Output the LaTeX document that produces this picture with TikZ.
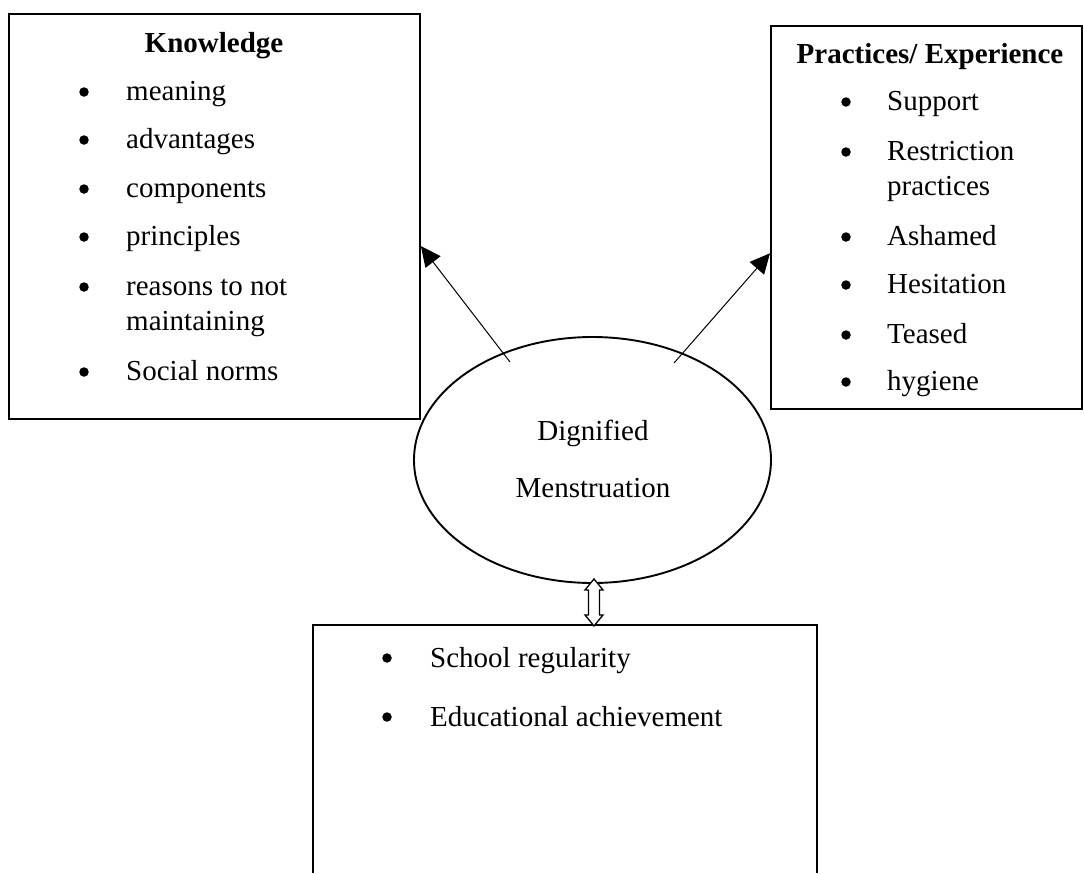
\documentclass[tikz,border=0pt]{standalone}
\usepackage{fontspec}
\setmainfont{Liberation Serif}
\usetikzlibrary{shapes.geometric,arrows.meta,calc}
\begin{document}
\begin{tikzpicture}[x=1pt,y=-1pt,
  mainfont/.style={font=\fontsize{29}{35}\selectfont},
  boxline/.style={line width=1.9pt},
  box/.style={draw, boxline, rectangle, inner sep=0pt, anchor=north west},
  txt/.style={mainfont, anchor=base west, inner sep=0pt},
  bul/.style={circle, fill, inner sep=0pt, minimum size=9.5pt},
  ctr/.style={mainfont, anchor=base, inner sep=0pt},
  ttl/.style={font=\fontsize{29}{35}\selectfont\bfseries, anchor=base, inner sep=0pt},
  arr/.style={line width=1pt, -{Triangle[length=20pt,width=19pt]}},
  dblarrow/.style={draw, fill=white, line width=1.3pt, line join=miter}]
\useasboundingbox (0,0) rectangle (1084,873);

% Left box: Knowledge
\node[box, minimum width=411pt, minimum height=405pt] (know) at (8,13) {};
\node[ttl] (kt) at (214,52) {Knowledge};
\node[bul] (kb1) at (84,92) {}; \node[txt] (k1) at (126,100) {meaning};
\node[bul] (kb2) at (84,140) {}; \node[txt] (k2) at (126,148) {advantages};
\node[bul] (kb3) at (84,189) {}; \node[txt] (k3) at (126,197) {components};
\node[bul] (kb4) at (84,237) {}; \node[txt] (k4) at (126,245) {principles};
\node[bul] (kb5) at (84,287) {}; \node[txt] (k5) at (126,295) {reasons to not};
\node[txt] (k5b) at (126,330) {maintaining};
\node[bul] (kb6) at (84,372) {}; \node[txt] (k6) at (126,380) {Social norms};

% Right box: Practices/ Experience
\node[box, minimum width=311pt, minimum height=383pt] (pe) at (770,25) {};
\node[ttl] (pt) at (930,63) {Practices/ Experience};
\node[bul] (pb1) at (846,102) {}; \node[txt] (p1) at (887,110) {Support};
\node[bul] (pb2) at (846,152) {}; \node[txt] (p2) at (887,160) {Restriction};
\node[txt] (p2b) at (887,195) {practices};
\node[bul] (pb3) at (846,237) {}; \node[txt] (p3) at (887,245) {Ashamed};
\node[bul] (pb4) at (846,285) {}; \node[txt] (p4) at (887,293) {Hesitation};
\node[bul] (pb5) at (846,335) {}; \node[txt] (p5) at (887,343) {Teased};
\node[bul] (pb6) at (846,382) {}; \node[txt] (p6) at (887,390) {hygiene};

% Ellipse
\node[ellipse, draw, line width=1.9pt, minimum width=357pt, minimum height=246pt, inner sep=0pt] (dm) at (592.5,460) {};
\node[ctr] (dm1) at (593,440) {Dignified};
\node[ctr] (dm2) at (593,497) {Menstruation};

% Bottom box (open at bottom)
\node[rectangle, inner sep=0pt, anchor=north west, minimum width=504pt, minimum height=248pt] (bot) at (313,625) {};
\draw[boxline] (bot.south west) -- (bot.north west) -- (bot.north east) -- (bot.south east);
\node[bul] (bb1) at (387,658) {}; \node[txt] (b1) at (430,667) {School regularity};
\node[bul] (bb2) at (387,717) {}; \node[txt] (b2) at (430,726) {Educational achievement};

% Arrows
\coordinate (s1) at (510,362);
\coordinate (s2) at (674,363);
\coordinate (t1) at ($(know.north east)!0.573!(know.south east)$);
\coordinate (t2) at ($(pe.north west)!0.593!(pe.south west)$);
\draw[arr] (s1) -- (t1);
\draw[arr] (s2) -- (t2);

% Hollow double arrow between ellipse and bottom box
\coordinate (dtop) at ($(dm.south)+(1.5,-5)$);
\draw[dblarrow] (dtop) -- ++(9,11) -- ++(-3.5,0) -- ++(0,25) -- ++(3.5,0)
  -- ++(-9,11) -- ++(-9,-11) -- ++(3.5,0) -- ++(0,-25) -- ++(-3.5,0) -- cycle;
\end{tikzpicture}
\end{document}
